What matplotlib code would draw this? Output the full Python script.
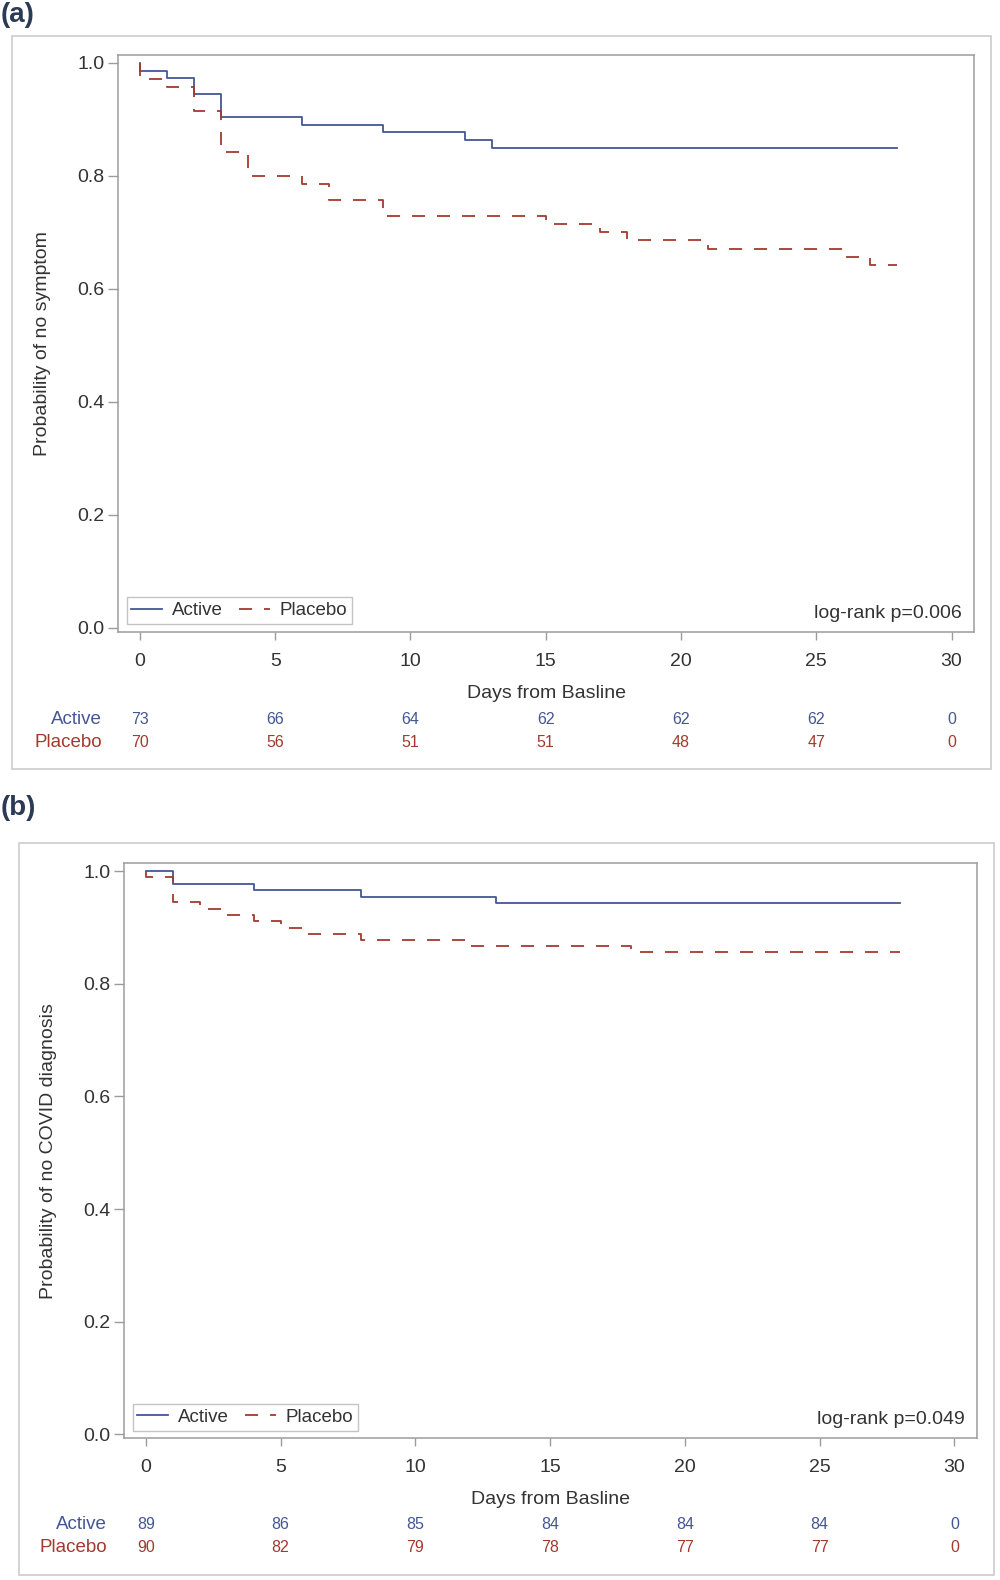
import matplotlib
matplotlib.use("Agg")
import matplotlib.pyplot as plt
from matplotlib.patches import Rectangle
from matplotlib.transforms import blended_transform_factory as blend

plt.rcParams['font.family'] = ['Liberation Sans', 'DejaVu Sans']
plt.rcParams['lines.scale_dashes'] = False

# ---------------- data ----------------
# Panel (a)
a_active_t = [0, 0, 1, 2, 3, 6, 9, 12, 13, 28]
a_active_s = [1.0, 0.986, 0.973, 0.945, 0.904, 0.890, 0.877, 0.863, 0.849, 0.849]
a_placebo_t = [0, 0, 1, 2, 3, 4, 6, 7, 9, 15, 17, 18, 21, 26, 27, 28]
a_placebo_s = [1.0, 0.971, 0.957, 0.914, 0.843, 0.800, 0.786, 0.757, 0.729,
               0.714, 0.700, 0.686, 0.671, 0.657, 0.643, 0.643]
a_risk_active = [73, 66, 64, 62, 62, 62, 0]
a_risk_placebo = [70, 56, 51, 51, 48, 47, 0]
a_ylabel = "Probability of no symptom"
a_pval = "log-rank p=0.006"

# Panel (b)
b_active_t = [0, 1, 4, 8, 13, 28]
b_active_s = [1.0, 0.978, 0.966, 0.955, 0.944, 0.944]
b_placebo_t = [0, 0, 1, 2, 3, 4, 5, 6, 8, 12, 18, 28]
b_placebo_s = [1.0, 0.989, 0.945, 0.933, 0.922, 0.911, 0.900, 0.889, 0.878,
               0.867, 0.856, 0.856]
b_risk_active = [89, 86, 85, 84, 84, 84, 0]
b_risk_placebo = [90, 82, 79, 78, 77, 77, 0]
b_ylabel = "Probability of no COVID diagnosis"
b_pval = "log-rank p=0.049"

risk_times = [0, 5, 10, 15, 20, 25, 30]
x_ticks = [0, 5, 10, 15, 20, 25, 30]
y_ticks = [0.0, 0.2, 0.4, 0.6, 0.8, 1.0]
groups = ["Active", "Placebo"]
xlabel = "Days from Basline"

# ---------------- style ----------------
C_ACT = '#445694'
C_PLA = '#A23A2E'
C_FRAME = '#9c9c9c'
C_TEXT = '#333333'
DASH = (0, (9.4, 8.6))

W, H = 1000, 1580
fig = plt.figure(figsize=(W / 100, H / 100), dpi=100)


def fx(px):
    return px / W


def fy(py):
    return 1 - py / H


def panel(box, axpx, act_t, act_s, pla_t, pla_s, r_act, r_pla, ylab, pval,
          letter, letter_y, ylab_x, xlab_y, risk_y, risk_lab_x):
    # outer box
    x0, y0, x1, y1 = box
    fig.patches.append(Rectangle((fx(x0), fy(y1)), fx(x1 - x0), (y1 - y0) / H,
                                 transform=fig.transFigure, fill=False,
                                 edgecolor='#cccccc', linewidth=1.2))
    fig.text(fx(1), fy(letter_y), letter, fontsize=20, fontweight='bold',
             color='#2b3b55', ha='left', va='center')

    l, t, r, b = axpx
    ax = fig.add_axes([fx(l), fy(b), fx(r - l), (b - t) / H])
    ax.step(act_t, act_s, where='post', color=C_ACT, lw=1.3, label=groups[0])
    ax.step(pla_t, pla_s, where='post', color=C_PLA, lw=1.3, linestyle=DASH,
            label=groups[1])
    ax.set_xlim(-0.8, 30.83)
    ax.set_ylim(-0.007, 1.014)
    ax.set_xticks(x_ticks)
    ax.set_yticks(y_ticks)
    ax.set_yticklabels([f"{v:.1f}" for v in y_ticks])
    for sp in ax.spines.values():
        sp.set_color(C_FRAME)
        sp.set_linewidth(1.1)
    ax.tick_params(axis='both', colors=C_FRAME, labelcolor=C_TEXT,
                   labelsize=14, width=1.0)
    ax.tick_params(axis='y', length=7, pad=3)
    ax.tick_params(axis='x', length=6, pad=9)

    leg = ax.legend(loc='lower left', bbox_to_anchor=(0.0098, 0.0134),
                    borderaxespad=0, ncol=2, fontsize=13.5, frameon=True,
                    fancybox=False, framealpha=1, edgecolor='#c4c4c4',
                    handlelength=1.65, handletextpad=0.5, columnspacing=0.9,
                    borderpad=0.25)
    leg.get_frame().set_linewidth(1.0)
    for txt in leg.get_texts():
        txt.set_color(C_TEXT)

    ax.text(0.9856, 0.032, pval, transform=ax.transAxes, ha='right',
            va='center', fontsize=14, color=C_TEXT)

    # y label
    ax.text(fx(ylab_x), 0.5, ylab, transform=blend(fig.transFigure, ax.transAxes),
            rotation=90, ha='center', va='center', fontsize=14, color=C_TEXT)
    # x label
    ax.text(0.5, fy(xlab_y), xlabel, transform=blend(ax.transAxes, fig.transFigure),
            ha='center', va='center', fontsize=14, color=C_TEXT)

    # at-risk table
    tr = blend(ax.transData, fig.transFigure)
    for row, (vals, col, name) in enumerate(((r_act, C_ACT, groups[0]),
                                              (r_pla, C_PLA, groups[1]))):
        yy = fy(risk_y[row])
        fig.text(fx(risk_lab_x), yy, name, ha='right', va='center',
                 fontsize=13.5, color=col)
        for tt, v in zip(risk_times, vals):
            ax.text(tt, yy, str(v), transform=tr, ha='center', va='center',
                    fontsize=11.5, color=col)
    return ax


panel(box=(12, 36, 991, 769), axpx=(118.3, 55, 974, 631.7),
      act_t=a_active_t, act_s=a_active_s, pla_t=a_placebo_t, pla_s=a_placebo_s,
      r_act=a_risk_active, r_pla=a_risk_placebo, ylab=a_ylabel, pval=a_pval,
      letter="(a)", letter_y=15, ylab_x=43, xlab_y=693.5,
      risk_y=(719.5, 742.5), risk_lab_x=102)

panel(box=(19, 843, 994, 1575), axpx=(124.3, 863.3, 976.7, 1438.3),
      act_t=b_active_t, act_s=b_active_s, pla_t=b_placebo_t, pla_s=b_placebo_s,
      r_act=b_risk_active, r_pla=b_risk_placebo, ylab=b_ylabel, pval=b_pval,
      letter="(b)", letter_y=808, ylab_x=49, xlab_y=1499,
      risk_y=(1524.5, 1548), risk_lab_x=107)

fig.savefig("out.png", dpi=100)
